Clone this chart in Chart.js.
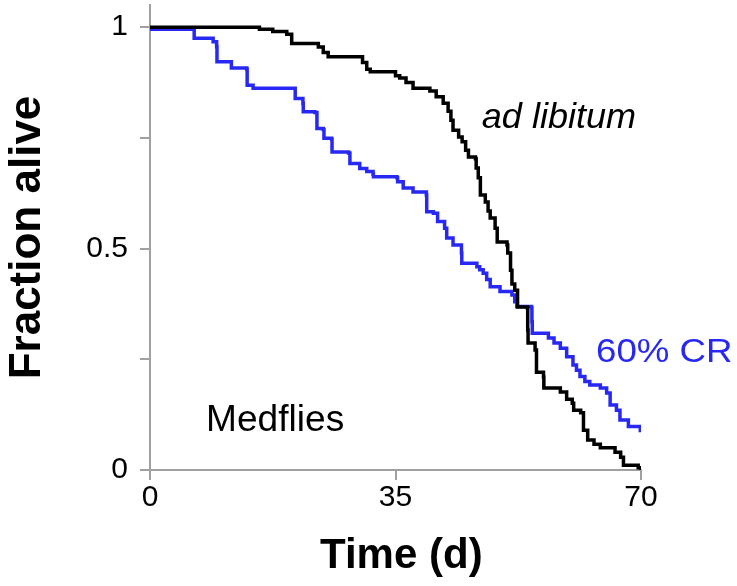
<!DOCTYPE html>
<html lang="en">
<head>
    <meta charset="utf-8">
    <title>Medflies - Fraction alive</title>
    <script src="https://cdn.jsdelivr.net/npm/chart.js"></script>
    <style>
        body { margin: 0; background: #fff; }
        #survivalChart { display: block; }
    </style>
</head>
<body>
    <canvas id="survivalChart" width="737" height="586"></canvas>

    <script>
        // ad libitum (black) - days and fraction alive
        var adLibDays = [0, 15.2, 15.6, 17.5, 19.5, 20.2, 23.3, 24.0, 24.7, 25.4, 29.6, 30.3, 30.9, 31.4,
            34.2, 35.0, 35.6, 36.5, 37.5, 39.9, 40.8, 41.8, 42.5, 42.9, 43.2, 44.0, 44.5, 45.0, 45.4,
            46.4, 46.5, 46.8, 47.1, 47.8, 48.2, 48.5, 49.2, 49.5, 50.9, 51.0, 51.4, 51.6, 52.0, 52.4,
            53.8, 53.85, 53.9, 54.9, 55.1, 56.1, 56.15, 58.5, 59.4, 60.2, 60.4, 61.4, 61.8, 62.4, 63.3,
            64.2, 65.6, 66.3, 67.1, 67.5, 69.6, 70];
        var adLibAlive = [1, 1, 0.995, 0.99, 0.984, 0.963, 0.963, 0.955, 0.943, 0.933, 0.933, 0.92, 0.905, 0.899,
            0.899, 0.89, 0.885, 0.875, 0.862, 0.856, 0.843, 0.828, 0.81, 0.79, 0.767, 0.752, 0.741, 0.722, 0.707,
            0.703, 0.682, 0.66, 0.621, 0.605, 0.585, 0.569, 0.546, 0.515, 0.508, 0.49, 0.451, 0.42, 0.406, 0.368,
            0.366, 0.316, 0.287, 0.271, 0.221, 0.21, 0.185, 0.176, 0.16, 0.151, 0.135, 0.129, 0.09, 0.068, 0.058,
            0.05, 0.05, 0.04, 0.029, 0.011, 0.005, 0];

        // 60% CR (blue)
        var crDays = [0, 6.2, 6.3, 8.6, 9.0, 9.5, 9.55, 11.4, 11.6, 13.8, 13.85, 14.7, 20.4, 20.7, 21.8, 21.85,
            23.5, 23.8, 24.7, 24.8, 25.9, 25.95, 28.3, 28.5, 29.9, 30.9, 31.8, 31.85, 35.2, 35.3, 36.1, 37.5,
            39.4, 39.45, 40.4, 41.0, 42.0, 42.3, 43.2, 44.4, 44.45, 46.6, 47.0, 47.5, 48.0, 48.5, 49.9, 51.6,
            52.0, 52.3, 54.4, 54.45, 54.5, 56.0, 56.8, 57.6, 58.5, 59.4, 60.3, 60.8, 61.3, 62.0, 62.7, 64.2,
            65.1, 65.6, 66.5, 67.0, 68.2, 69.9, 70];
        var crAlive = [0.995, 0.995, 0.975, 0.975, 0.967, 0.956, 0.922, 0.922, 0.908, 0.905, 0.869, 0.862, 0.862, 0.839, 0.828, 0.809,
            0.807, 0.771, 0.769, 0.749, 0.747, 0.718, 0.716, 0.692, 0.681, 0.674, 0.668, 0.662, 0.66, 0.651, 0.637, 0.628,
            0.621, 0.583, 0.58, 0.561, 0.546, 0.524, 0.508, 0.49, 0.467, 0.459, 0.452, 0.444, 0.43, 0.414, 0.403, 0.395,
            0.38, 0.369, 0.366, 0.335, 0.309, 0.309, 0.298, 0.287, 0.275, 0.256, 0.237, 0.225, 0.211, 0.2, 0.192, 0.185,
            0.174, 0.147, 0.135, 0.113, 0.098, 0.089, 0.088];

        var xTicks = [0, 35, 70];
        var yTicks = [0, 0.25, 0.5, 0.75, 1];
        var yTickLabels = ['0', '', '0.5', '', '1'];

        var axisGray = '#a0a0a0';
        var blue = '#2828f4';
        var fontFamily = '"Liberation Sans", Arial, sans-serif';

        function toPoints(days, alive) {
            return days.map(function (d, i) { return { x: d, y: alive[i] }; });
        }

        // text labels inside the plot, placed in data coordinates (sx = horizontal stretch of the lettering)
        var annotations = [
            { text: 'ad libitum', x: 47.3, y: 0.772, font: 'italic 35px ' + fontFamily, color: '#000', sx: 1.03 },
            { text: '60% CR', x: 63.6, y: 0.244, font: '33px ' + fontFamily, color: blue, sx: 1.11 },
            { text: 'Medflies', x: 8.0, y: 0.087, font: '36px ' + fontFamily, color: '#000', sx: 1.03 }
        ];

        var labelPlugin = {
            id: 'labelPlugin',
            afterDraw: function (chart) {
                var ctx = chart.ctx;
                var xs = chart.scales.x, ys = chart.scales.y;
                annotations.forEach(function (a) {
                    ctx.save();
                    ctx.textAlign = 'left';
                    ctx.textBaseline = 'alphabetic';
                    ctx.font = a.font;
                    ctx.fillStyle = a.color;
                    ctx.translate(xs.getPixelForValue(a.x), ys.getPixelForValue(a.y));
                    ctx.scale(a.sx, 1);
                    ctx.fillText(a.text, 0, 0);
                    ctx.restore();
                });
            }
        };

        var ctx = document.getElementById('survivalChart').getContext('2d');
        var survivalChart = new Chart(ctx, {
            type: 'line',
            data: {
                datasets: [{
                    label: 'ad libitum',
                    data: toPoints(adLibDays, adLibAlive),
                    borderColor: '#000',
                    borderWidth: 3.5,
                    stepped: true,
                    pointRadius: 0,
                    fill: false
                }, {
                    label: '60% CR',
                    data: toPoints(crDays, crAlive),
                    borderColor: blue,
                    borderWidth: 3.5,
                    stepped: true,
                    pointRadius: 0,
                    fill: false
                }]
            },
            options: {
                responsive: false,
                animation: false,
                layout: { padding: { top: 5, right: 96, left: 0, bottom: 0 } },
                plugins: {
                    legend: { display: false },
                    tooltip: { enabled: false }
                },
                scales: {
                    x: {
                        type: 'linear',
                        min: 0,
                        max: 70,
                        afterFit: function (s) { s.height = 116; s.paddingLeft = 0; s.paddingRight = 0; },
                        afterBuildTicks: function (s) { s.ticks = xTicks.map(function (v) { return { value: v }; }); },
                        border: { display: true, color: axisGray, width: 2 },
                        grid: { drawOnChartArea: false, drawTicks: true, tickLength: 10, color: axisGray, lineWidth: 2 },
                        ticks: {
                            padding: 0,
                            color: '#000',
                            font: { family: fontFamily, size: 30 },
                            maxRotation: 0,
                            autoSkip: false
                        },
                        title: {
                            display: true,
                            text: ' Time (d)',
                            color: '#000',
                            font: { family: fontFamily, size: 42, weight: 'bold' },
                            padding: { top: 0, bottom: 4 }
                        }
                    },
                    y: {
                        min: 0,
                        max: 1.05,
                        afterFit: function (s) { s.width = 150; s.paddingTop = 0; s.paddingBottom = 0; },
                        afterBuildTicks: function (s) { s.ticks = yTicks.map(function (v) { return { value: v }; }); },
                        border: { display: true, color: axisGray, width: 2 },
                        grid: { drawOnChartArea: false, drawTicks: true, tickLength: 10, color: axisGray, lineWidth: 2 },
                        ticks: {
                            padding: 12,
                            color: '#000',
                            font: { family: fontFamily, size: 30 },
                            autoSkip: false,
                            callback: function (value, index) { return yTickLabels[index]; }
                        },
                        title: {
                            display: true,
                            text: 'Fraction alive',
                            color: '#000',
                            font: { family: fontFamily, size: 44, weight: 'bold' },
                            padding: { top: 1, bottom: 0 }
                        }
                    }
                }
            },
            plugins: [labelPlugin]
        });
    </script>
</body>
</html>
